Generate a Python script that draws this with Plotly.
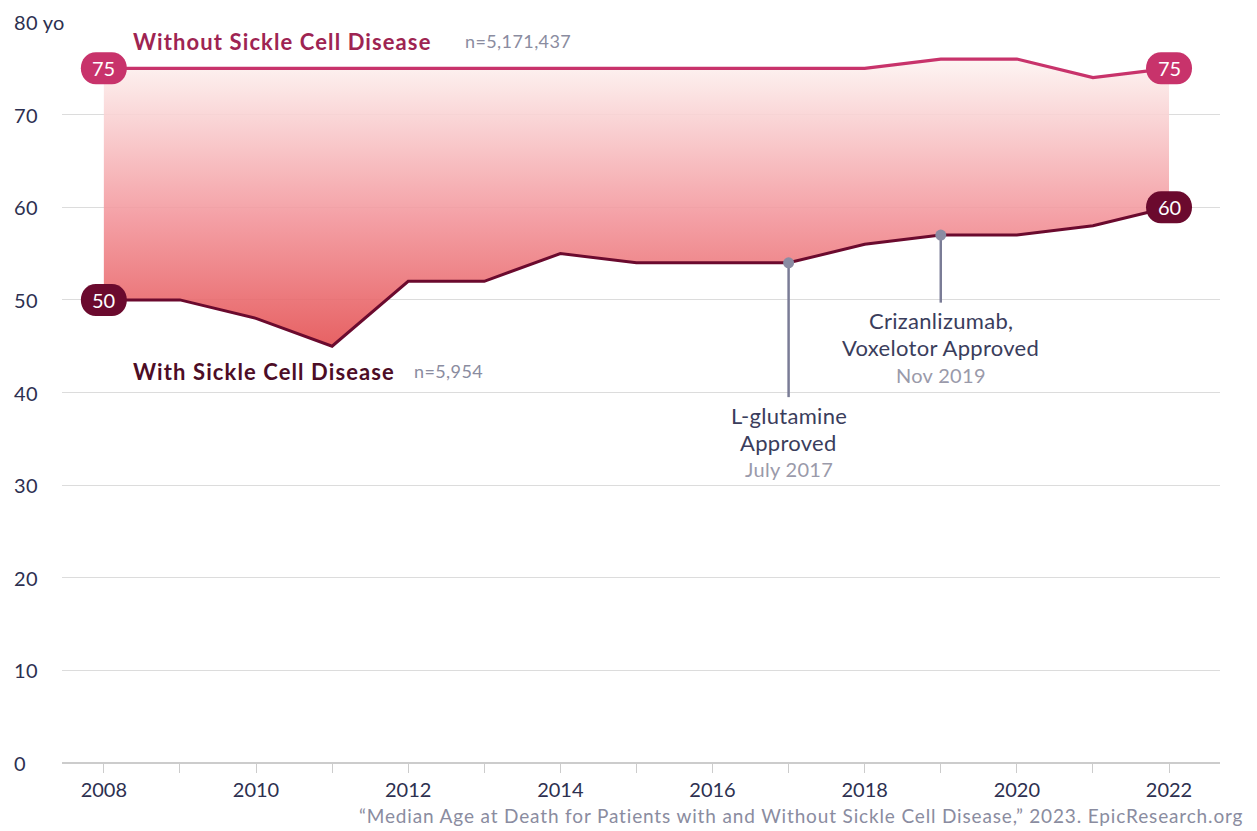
import plotly.graph_objects as go

years = [2008, 2009, 2010, 2011, 2012, 2013, 2014, 2015, 2016, 2017, 2018, 2019, 2020, 2021, 2022]
without_scd = [75, 75, 75, 75, 75, 75, 75, 75, 75, 75, 75, 76, 76, 74, 75]
with_scd = [50, 50, 48, 45, 52, 52, 55, 54, 54, 54, 56, 57, 57, 58, 60]

y_ticks = [0, 10, 20, 30, 40, 50, 60, 70, 80]
y_tick_text = ["0", "10", "20", "30", "40", "50", "60", "70", "80 yo"]
x_ticks = [2008, 2010, 2012, 2014, 2016, 2018, 2020, 2022]

series_names = ["Without Sickle Cell Disease", "With Sickle Cell Disease"]
series_n = ["n=5,171,437", "n=5,954"]

# event callouts: year, value on line, bottom of leader line, text lines, date
events_x = [2017, 2019]
events_y = [54, 57]
events_end = [39.5, 49.7]
events_lines = [["L-glutamine", "Approved"], ["Crizanlizumab,", "Voxelotor Approved"]]
events_date = ["July 2017", "Nov 2019"]

C_WITHOUT = "#c8336b"
C_WITH = "#6b0a2e"
C_LABEL_WITHOUT = "#9e2452"
C_LABEL_WITH = "#4d0d26"
C_GRAY = "#8a8ca0"
C_TEXT = "#3a3d5c"
FONT = "Lato"


def ls(text, px):
    return f"<span style='letter-spacing:{px}px'>{text}</span>"


fig = go.Figure()

fig.add_trace(go.Scatter(x=years, y=with_scd, mode="lines",
                         line=dict(color=C_WITH, width=3), hoverinfo="skip"))
fig.add_trace(go.Scatter(x=years, y=without_scd, mode="lines", fill="tonexty",
                         fillgradient=dict(type="vertical",
                                           colorscale=[[0, "rgba(228,80,82,0.9)"],
                                                       [0.45, "rgba(243,150,156,0.9)"],
                                                       [1, "rgba(253,244,242,0.9)"]]),
                         line=dict(color=C_WITHOUT, width=3.2), hoverinfo="skip"))

# event leader lines + dots
for ex, ey, ee, lines, dt in zip(events_x, events_y, events_end, events_lines, events_date):
    fig.add_trace(go.Scatter(x=[ex, ex], y=[ey, ee], mode="lines",
                             line=dict(color="#7a7c96", width=2.5), hoverinfo="skip"))
    fig.add_trace(go.Scatter(x=[ex], y=[ey], mode="markers",
                             marker=dict(color="#8a8ca3", size=11), hoverinfo="skip"))
    for k, (txt, col, sz) in enumerate([(lines[0], C_TEXT, 22), (lines[1], C_TEXT, 22), (dt, "#9a9aaa", 20)]):
        fig.add_annotation(x=ex, y=ee, yshift=-(18 + 27 * k), text=ls(txt, 0.3), showarrow=False,
                           xanchor="center", yanchor="middle",
                           font=dict(family=FONT, size=sz, color=col))

# pill badges at line ends
pill = ("M -8,-16 H 8 C 16.8,-16 23,-8.8 23,0 C 23,8.8 16.8,16 8,16 H -8 "
        "C -16.8,16 -23,8.8 -23,0 C -23,-8.8 -16.8,-16 -8,-16 Z")
badges = [(years[0], without_scd[0], C_WITHOUT), (years[-1], without_scd[-1], C_WITHOUT),
          (years[0], with_scd[0], C_WITH), (years[-1], with_scd[-1], C_WITH)]
for bx, by, bc in badges:
    fig.add_shape(type="path", xref="x", yref="y", xsizemode="pixel", ysizemode="pixel",
                  xanchor=bx, yanchor=by, path=pill, fillcolor=bc, line=dict(width=0), layer="above")
    fig.add_annotation(x=bx, y=by, text=str(by), showarrow=False,
                       font=dict(family=FONT, size=20, color="white"))

# series labels
label_pos = [(2008.36, 77.9, 2012.72, C_LABEL_WITHOUT), (2008.36, 42.3, 2012.05, C_LABEL_WITH)]
for name, nlab, (lx, ly, nx, col) in zip(series_names, series_n, label_pos):
    fig.add_annotation(x=lx, y=ly, xanchor="left", yanchor="middle", showarrow=False,
                       text=f"<b>{ls(name, 1.1)}</b>",
                       font=dict(family=FONT, size=22, color=col))
    fig.add_annotation(x=nx, y=ly, xanchor="left", yanchor="middle", showarrow=False,
                       text=ls(nlab, 0.4),
                       font=dict(family=FONT, size=18, color=C_GRAY))

# y tick labels (left aligned)
for v, t in zip(y_ticks, y_tick_text):
    fig.add_annotation(xref="paper", x=-50 / 1158, y=v, text=ls(t, 0.3), showarrow=False,
                       xanchor="left", yanchor="middle",
                       font=dict(family=FONT, size=20, color="#2d3050"))

# source
fig.add_annotation(xref="paper", yref="paper", x=1 + 25 / 1158, y=-52 / 741, xanchor="right", yanchor="middle",
                   showarrow=False,
                   text=ls("\u201cMedian Age at Death for Patients with and Without Sickle Cell Disease,\u201d 2023. EpicResearch.org", 0.85),
                   font=dict(family=FONT, size=19, color=C_GRAY))

fig.update_layout(
    width=1257, height=831,
    margin=dict(l=54, r=45, t=14, b=76),
    plot_bgcolor="white", paper_bgcolor="white",
    showlegend=False,
    font=dict(family=FONT),
    xaxis=dict(range=[2007.45, 2022.67], tickvals=x_ticks, ticktext=[str(v) for v in x_ticks],
               showgrid=False, zeroline=False, showline=False,
               ticks="outside", ticklen=9, tickcolor="#cccccc", tickwidth=1,
               minor=dict(dtick=1, tick0=2008, ticks="outside", ticklen=9, tickcolor="#cccccc", showgrid=False),
               tickfont=dict(family=FONT, size=20, color="#2d3050")),
    yaxis=dict(range=[0, 80], tickvals=y_ticks, showticklabels=False, showgrid=True,
               gridcolor="#dcdcdc", gridwidth=1, zeroline=True, zerolinecolor="#cccccc", zerolinewidth=2,
               showline=False, fixedrange=True),
)

fig.write_html("out.html")
